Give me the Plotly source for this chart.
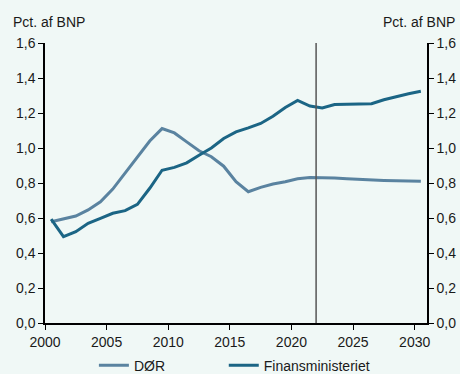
import plotly.graph_objects as go

years = list(range(2000, 2031))
dor = [0.579, 0.593, 0.611, 0.646, 0.693, 0.765, 0.855, 0.95, 1.04, 1.111,
       1.086, 1.035, 0.984, 0.95, 0.896, 0.807, 0.75, 0.775, 0.794, 0.807,
       0.824, 0.832, 0.832, 0.828, 0.824, 0.82, 0.817, 0.815, 0.813, 0.811, 0.81]
fin = [0.593, 0.494, 0.522, 0.57, 0.598, 0.627, 0.642, 0.678, 0.77, 0.873,
       0.889, 0.915, 0.959, 1.0, 1.054, 1.092, 1.115, 1.14, 1.181, 1.231,
       1.272, 1.24, 1.229, 1.248, 1.25, 1.25, 1.253, 1.276, 1.295, 1.31, 1.324]
y_ticks = [0.0, 0.2, 0.4, 0.6, 0.8, 1.0, 1.2, 1.4, 1.6]
y_labels = ["0,0", "0,2", "0,4", "0,6", "0,8", "1,0", "1,2", "1,4", "1,6"]
x_ticks = [2000, 2005, 2010, 2015, 2020, 2025, 2030]
split_year = 2022

xpos = [y + 0.5 for y in years]
bg = "#f0f8f6"
font = dict(family="Liberation Sans, Arial, sans-serif", size=14, color="#1a1a1a")

fig = go.Figure()
fig.add_trace(go.Scatter(x=xpos, y=dor, mode="lines", name="DØR", legend="legend",
                         line=dict(color="#5a83a0", width=3)))
fig.add_trace(go.Scatter(x=xpos, y=fin, mode="lines", name="Finansministeriet",
                         legend="legend2", line=dict(color="#1b6585", width=3)))
fig.add_trace(go.Scatter(x=[None], y=[None], yaxis="y2", showlegend=False,
                         hoverinfo="skip"))

axis_common = dict(range=[0, 1.6], tickvals=y_ticks, ticktext=y_labels,
                   showgrid=False, zeroline=False, showline=True,
                   linecolor="#000000", linewidth=1.5, ticks="outside",
                   ticklen=5, tickcolor="#000000", tickfont=font)

legend_common = dict(orientation="h", xanchor="left", yref="container",
                     y=0.022, yanchor="middle", font=font,
                     bgcolor="rgba(0,0,0,0)")

fig.update_layout(
    width=460, height=374,
    paper_bgcolor=bg, plot_bgcolor=bg,
    margin=dict(l=45, r=33, t=43, b=51, autoexpand=False),
    font=font,
    xaxis=dict(range=[2000, 2031], tickvals=x_ticks, ticktext=[str(v) for v in x_ticks],
               showgrid=False, zeroline=False, showline=True, linecolor="#000000",
               linewidth=1.5, ticks="outside", ticklen=5, tickcolor="#000000",
               tickfont=font),
    yaxis=dict(side="left", **axis_common),
    yaxis2=dict(side="right", overlaying="y", **axis_common),
    legend=dict(x=0.128, **legend_common),
    legend2=dict(x=0.468, **legend_common),
    shapes=[dict(type="line", xref="x", yref="y", x0=split_year, x1=split_year,
                 y0=0, y1=1.6, line=dict(color="#555555", width=1.5))],
    annotations=[
        dict(text="Pct. af BNP", xref="paper", yref="paper", x=-0.09, y=1.04,
             xanchor="left", yanchor="bottom", showarrow=False, font=font),
        dict(text="Pct. af BNP", xref="paper", yref="paper", x=1.078, y=1.04,
             xanchor="right", yanchor="bottom", showarrow=False, font=font),
    ],
)

fig.write_html("out.html", config={"displayModeBar": False},
               post_script="document.body.style.margin='0';"
                           "document.body.style.overflow='hidden';")
